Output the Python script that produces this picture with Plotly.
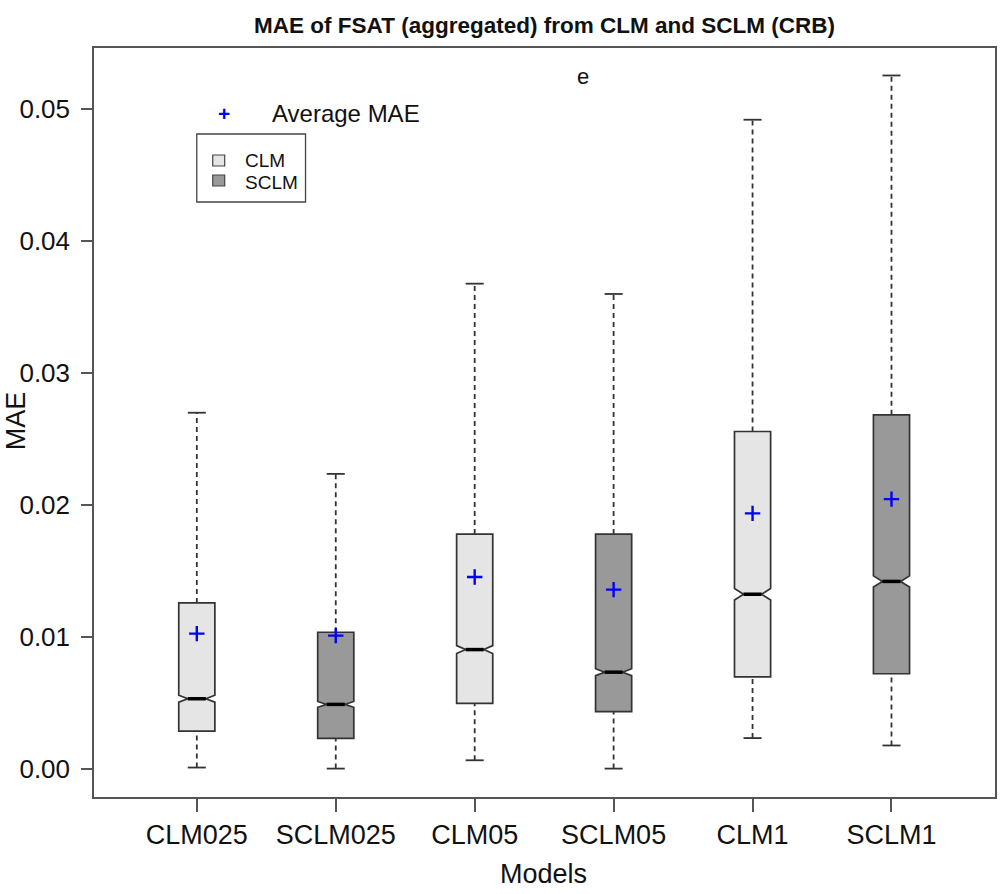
import plotly.graph_objects as go

# Box statistics of MAE for each model
models = ["CLM025", "SCLM025", "CLM05", "SCLM05", "CLM1", "SCLM1"]
groups = ["CLM", "SCLM", "CLM", "SCLM", "CLM", "SCLM"]
lower_whisker = [0.00013, 0.00005, 0.00068, 0.00005, 0.00236, 0.00180]
q1 = [0.00289, 0.00234, 0.00498, 0.00436, 0.00699, 0.00723]
median = [0.00534, 0.00491, 0.00906, 0.00735, 0.01325, 0.01422]
q3 = [0.01259, 0.01037, 0.01780, 0.01780, 0.02557, 0.02683]
upper_whisker = [0.02699, 0.02236, 0.03676, 0.03598, 0.04917, 0.05252]
notch_half = [0.00026, 0.00022, 0.00030, 0.00026, 0.00044, 0.00042]
mean_mae = [0.01027, 0.01012, 0.01455, 0.01360, 0.01937, 0.02045]
y_ticks = [0.00, 0.01, 0.02, 0.03, 0.04, 0.05]

fills = {"CLM": "#e5e5e5", "SCLM": "#999999"}
edge = "#333333"
axis_col = "#555555"
font_family = "Liberation Sans, Arial, sans-serif"

W, H = 1000, 894
M_L, M_R, M_T, M_B = 94, 3, 48, 97
BOX_W = 0.26
CAP_HALF = 0.065
MED_HALF = 0.065

pos = list(range(1, len(models) + 1))

fig = go.Figure()

# dashed whiskers and solid caps
wx, wy, cx, cy = [], [], [], []
for p, lo, a, b, hi in zip(pos, lower_whisker, q1, q3, upper_whisker):
    wx += [p, p, None, p, p, None]
    wy += [b, hi, None, lo, a, None]
    cx += [p - CAP_HALF, p + CAP_HALF, None, p - CAP_HALF, p + CAP_HALF, None]
    cy += [hi, hi, None, lo, lo, None]
fig.add_trace(go.Scatter(x=wx, y=wy, mode="lines", hoverinfo="skip",
                         line=dict(color=edge, width=1.8, dash="5px,4px"),
                         showlegend=False))
fig.add_trace(go.Scatter(x=cx, y=cy, mode="lines", hoverinfo="skip",
                         line=dict(color=edge, width=1.8), showlegend=False))

# notched boxes, one trace per group
for g in ["CLM", "SCLM"]:
    idx = [i for i, gg in enumerate(groups) if gg == g]
    fig.add_trace(go.Box(
        x=[pos[i] for i in idx],
        q1=[q1[i] for i in idx],
        median=[median[i] for i in idx],
        q3=[q3[i] for i in idx],
        lowerfence=[q1[i] for i in idx],
        upperfence=[q3[i] for i in idx],
        notchspan=[notch_half[i] for i in idx],
        notched=True, notchwidth=0.25,
        width=BOX_W, whiskerwidth=0, boxpoints=False,
        fillcolor=fills[g], line=dict(color=edge, width=1.7),
        name=g, showlegend=False,
    ))

# thick median bars
mx, my = [], []
for p, m in zip(pos, median):
    mx += [p - MED_HALF, p + MED_HALF, None]
    my += [m, m, None]
fig.add_trace(go.Scatter(x=mx, y=my, mode="lines", hoverinfo="skip",
                         line=dict(color="#000000", width=3.5), showlegend=False))

# average MAE markers
fig.add_trace(go.Scatter(x=pos, y=mean_mae, mode="markers", showlegend=False,
                         marker=dict(symbol="cross-thin", size=11,
                                     line=dict(color="#0000ff", width=2.4))))


def px_x(v):
    return (v - M_L) / (W - M_L - M_R)


def px_y(v):
    return (H - M_B - v) / (H - M_T - M_B)


annotations = [
    dict(x=px_x(544), y=px_y(874), text="Models",
         font=dict(size=27, color="#111111")),
    dict(x=px_x(16), y=px_y(421), text="MAE", textangle=-90,
         font=dict(size=27, color="#111111")),
    dict(x=px_x(584), y=px_y(76), text="e",
         font=dict(size=22, color="#111111")),
    dict(x=px_x(224), y=px_y(113), text="<b>+</b>",
         font=dict(size=21, color="#0000ff")),
    dict(x=px_x(270), y=px_y(113), text="Average MAE", xanchor="left",
         font=dict(size=24, color="#111111")),
    dict(x=px_x(243), y=px_y(160), text="CLM", xanchor="left",
         font=dict(size=19, color="#111111")),
    dict(x=px_x(243), y=px_y(182), text="SCLM", xanchor="left",
         font=dict(size=19, color="#111111")),
]
for a in annotations:
    a.setdefault("xanchor", "center")
    a.update(xref="paper", yref="paper", yanchor="middle", showarrow=False)

shapes = [
    dict(type="rect", xref="paper", yref="paper",
         x0=px_x(197), x1=px_x(306), y0=px_y(202), y1=px_y(134),
         line=dict(color="#444444", width=1.3), fillcolor="white"),
    dict(type="rect", xref="paper", yref="paper",
         x0=px_x(213), x1=px_x(225), y0=px_y(166), y1=px_y(155),
         line=dict(color="#444444", width=1.2), fillcolor=fills["CLM"]),
    dict(type="rect", xref="paper", yref="paper",
         x0=px_x(213), x1=px_x(225), y0=px_y(186), y1=px_y(175),
         line=dict(color="#444444", width=1.2), fillcolor=fills["SCLM"]),
]

fig.update_layout(
    width=W, height=H,
    margin=dict(l=M_L, r=M_R, t=M_T, b=M_B),
    paper_bgcolor="white", plot_bgcolor="white",
    font=dict(family=font_family, color="#111111"),
    boxmode="overlay",
    title=dict(text="MAE of FSAT (aggregated) from CLM and SCLM (CRB)",
               x=0.5, xref="paper", y=1 - 25 / H, yref="container",
               xanchor="center", yanchor="middle",
               font=dict(size=22.5, weight="bold", color="#111111")),
    annotations=annotations,
    shapes=shapes,
)
fig.update_xaxes(
    range=[0.26, 6.745], tickvals=pos, ticktext=models,
    showline=True, mirror=True, linecolor=axis_col, linewidth=1.5,
    ticks="outside", ticklen=13, tickwidth=1.5, tickcolor=axis_col,
    tickfont=dict(size=27, color="#111111"),
    showgrid=False, zeroline=False,
)
fig.update_yaxes(
    range=[-0.0021, 0.0546], tickvals=y_ticks, tickformat=".2f",
    showline=True, mirror=True, linecolor=axis_col, linewidth=1.5,
    ticks="outside", ticklen=11, tickwidth=1.5, tickcolor=axis_col,
    ticklabelstandoff=6,
    tickfont=dict(size=26, color="#111111"),
    showgrid=False, zeroline=False,
)

fig.write_html("out.html")
